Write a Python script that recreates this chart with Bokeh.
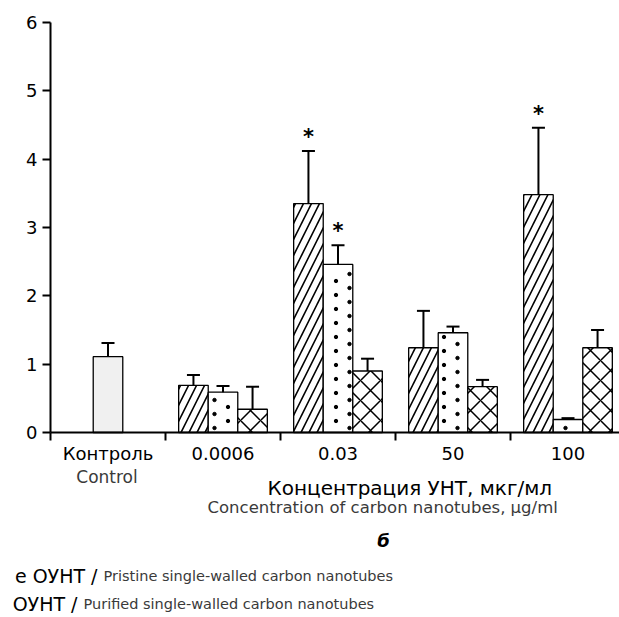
from bokeh.plotting import figure
from bokeh.models import Range1d, FixedTicker, ColumnDataSource, Whisker, TeeHead
from bokeh.core.properties import value
from bokeh.embed import file_html
from bokeh.resources import INLINE

# ---- data ----
categories = ["Контроль", "0.0006", "0.03", "50", "100"]
control_value = [1.11]
control_err = [0.20]
dose_groups = ["0.0006", "0.03", "50", "100"]
pristine = [0.69, 3.35, 1.24, 3.48]
pristine_err = [0.15, 0.77, 0.54, 0.98]
purified = [0.59, 2.46, 1.46, 0.19]
purified_err = [0.09, 0.28, 0.09, 0.02]
third = [0.34, 0.90, 0.67, 1.24]
third_err = [0.33, 0.18, 0.10, 0.26]
significant = [("pristine", "0.03"), ("purified", "0.03"), ("pristine", "100")]
y_ticks = [0, 1, 2, 3, 4, 5, 6]

FONT = "DejaVu Sans"
W = 0.257            # bar width in category units

# canvas geometry: one category = 115 px, one y unit = 410/6 px
PX_X = 115.0
PX_Y = 410.0 / 6
X0, Y0 = 50, 432     # pixel position of the data origin


def dx(px):
    return (px - X0) / PX_X


def dy(py):
    return (Y0 - py) / PX_Y


p = figure(width=619, height=617,
           x_range=Range1d(dx(0), dx(619)), y_range=Range1d(dy(617), dy(0)),
           output_backend="svg", toolbar_location=None, min_border=0)
p.outline_line_color = None
p.xgrid.visible = False
p.ygrid.visible = False

cat_x = {c: i + 0.5 for i, c in enumerate(categories)}

# control bar
csrc = ColumnDataSource(dict(x=[cat_x["Контроль"]], top=control_value,
                             upper=[v + e for v, e in zip(control_value, control_err)],
                             lower=[v - e for v, e in zip(control_value, control_err)]))
p.vbar(x="x", top="top", width=W, source=csrc, fill_color="#f0f0f0",
       line_color="black", line_width=1.3)

series = [
    ("pristine", pristine, pristine_err, -W,
     dict(hatch_pattern="right_diagonal_line", hatch_scale=16, hatch_weight=1.6)),
    ("purified", purified, purified_err, 0.0, dict()),
    ("third", third, third_err, W,
     dict(hatch_pattern="diagonal_cross", hatch_scale=20, hatch_weight=1.5)),
]

sources = {}
for name, vals, errs, off, hatch in series:
    xs = [cat_x[g] + off for g in dose_groups]
    src = ColumnDataSource(dict(x=xs, top=vals,
                                upper=[v + e for v, e in zip(vals, errs)],
                                lower=[max(v - e, 0) for v, e in zip(vals, errs)],
                                group=dose_groups))
    p.vbar(x="x", top="top", width=W, source=src, fill_color="white",
           line_color="black", line_width=1.3, hatch_color="black", **hatch)
    sources[name] = src

# sparse staggered dot fill for the "purified" bars (derived from bar geometry)
col_step, row_step = 13.5 / PX_X, 14.0 / PX_Y
col_origin = dx(214)
base_off, edge = 4.5 / PX_Y, 2.5 / PX_X
dot_x, dot_y = [], []
pd = sources["purified"].data
for xc, top in zip(pd["x"], pd["top"]):
    left, right = xc - W / 2 + edge, xc + W / 2 - edge
    for k in range(-20, 60):
        cx = col_origin + k * col_step
        if not (left < cx < right):
            continue
        yy = base_off + (0.5 * row_step if k % 2 else 0.0)
        while yy < top - 3.0 / PX_Y:
            dot_x.append(cx)
            dot_y.append(yy)
            yy += row_step
p.scatter(x=dot_x, y=dot_y, marker="circle", size=3.4, color="black")

for src in [csrc] + list(sources.values()):
    w = Whisker(source=src, base="x", upper="upper", lower="lower",
                line_width=2, line_color="black",
                upper_head=TeeHead(size=13, line_width=2, line_color="black"),
                lower_head=TeeHead(size=13, line_width=2, line_color="black"))
    p.add_layout(w)

# asterisks
sx, sy = [], []
for name, src in sources.items():
    d = src.data
    for i, g in enumerate(d["group"]):
        if (name, g) in significant:
            sx.append(d["x"][i])
            sy.append(d["upper"][i])
p.text(x=sx, y=sy, text=["*"] * len(sx), text_align="center", text_baseline="middle",
       y_offset=-14, text_font=value(FONT), text_font_size="21px", text_font_style="bold",
       text_color="black")

# axes crossing at the data origin
yax = p.yaxis[0]
yax.fixed_location = 0
yax.bounds = (0, 6)
yax.ticker = FixedTicker(ticks=y_ticks)
yax.minor_tick_line_color = None
yax.major_tick_out = 8
yax.major_tick_in = 0
yax.axis_line_width = 2
yax.major_tick_line_width = 2
yax.major_label_text_font = FONT
yax.major_label_text_font_size = "18px"
yax.major_label_text_color = "black"
yax.major_label_standoff = 5

xax = p.xaxis[0]
xax.fixed_location = 0
xax.bounds = (0, dx(619))
xax.ticker = FixedTicker(ticks=[cat_x[c] for c in categories],
                         minor_ticks=[i for i in range(len(categories))])
xax.major_label_overrides = {cat_x[c]: c for c in categories}
xax.major_tick_out = 0
xax.major_tick_in = 0
xax.minor_tick_out = 8
xax.minor_tick_in = 0
xax.minor_tick_line_width = 2
xax.axis_line_width = 2
xax.major_label_text_font = FONT
xax.major_label_text_font_size = "18px"
xax.major_label_text_color = "black"
xax.major_label_standoff = 2

# captions (text positions given in picture pixels, converted to data units)
captions = [
    ("Control", 106.5, 476, "center", "17px", "#3a3a3a", "normal"),
    ("Концентрация УНТ, мкг/мл", 267, 487, "left", "20px", "black", "normal"),
    ("Concentration of carbon nanotubes, μg/ml", 207, 507, "left", "16.5px", "#3a3a3a", "normal"),
    ("б", 383, 540, "center", "18px", "black", "bold italic"),
    ("е ОУНТ /", 97, 575, "right", "19px", "black", "normal"),
    ("Pristine single-walled carbon nanotubes", 103, 575, "left", "14.5px", "#3a3a3a", "normal"),
    ("ОУНТ /", 77, 603, "right", "19px", "black", "normal"),
    ("Purified single-walled carbon nanotubes", 83, 603, "left", "14.5px", "#3a3a3a", "normal"),
]
for t, x, y, al, fs, col, st in captions:
    p.text(x=[dx(x)], y=[dy(y)], text=[t], text_align=al, text_baseline="middle",
           text_font=value(FONT), text_font_size=fs, text_color=col, text_font_style=st)

open("out.html", "w").write(file_html(p, INLINE))
